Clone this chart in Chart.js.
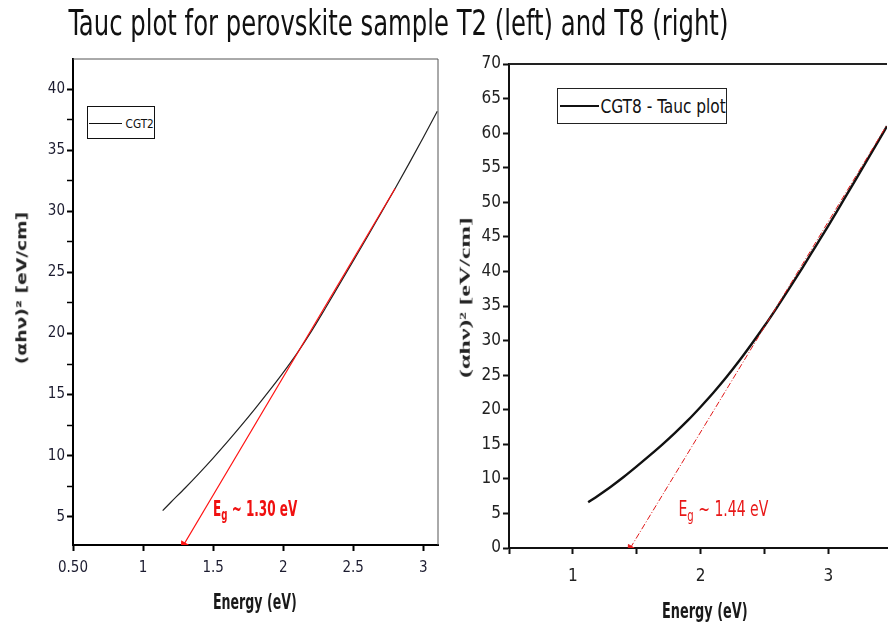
<!DOCTYPE html>
<html>
<head>
<meta charset="utf-8">
<title>Tauc plot</title>
<script src="https://cdn.jsdelivr.net/npm/chart.js@4.4.1/dist/chart.umd.min.js"></script>
<style>
  html, body { margin: 0; padding: 0; background: #fff; }
  body {
    width: 892px; height: 629px; position: relative; overflow: hidden;
    font-family: "Liberation Sans Narrow", "Arial Narrow", "DejaVu Sans Condensed", "Liberation Sans", sans-serif;
  }
  canvas { position: absolute; top: 0; }
  #leftChart  { left: 0; }
  #rightChart { left: 440px; }
  .txt { position: absolute; white-space: nowrap; line-height: 1; transform-origin: 50% 50%; }
  .txt sub { position: relative; top: 0.32em; font-size: 0.72em; vertical-align: baseline; line-height: 0; }
  .legend { position: absolute; background: #fff; box-sizing: border-box; }
  .legend .sw { position: absolute; }
</style>
</head>
<body>
<canvas id="leftChart" width="445" height="629"></canvas>
<canvas id="rightChart" width="452" height="629"></canvas>

<div class="txt" id="mainTitle" style="font-size:36px;color:#111;">Tauc plot for perovskite sample T2 (left) and T8 (right)</div>

<div class="txt" id="leftYTitle"  style="font-size:14px;font-weight:bold;color:#222;">(&alpha;h&nu;)&sup2; [eV/cm]</div>
<div class="txt" id="rightYTitle" style="font-size:15px;font-weight:bold;color:#222;font-family:'Liberation Serif','DejaVu Serif',serif;">(&alpha;h&nu;)&sup2; [eV/cm]</div>
<div class="txt" id="leftXTitle"  style="font-size:21px;font-weight:bold;color:#1a1a1a;">Energy (eV)</div>
<div class="txt" id="rightXTitle" style="font-size:22px;font-weight:bold;color:#1a1a1a;">Energy (eV)</div>

<div class="txt" id="leftEg"  style="font-size:21px;font-weight:bold;color:#f01010;">E<sub>g</sub> ~ 1.30 eV</div>
<div class="txt" id="rightEg" style="font-size:22px;color:#e81818;">E<sub>g</sub> ~ 1.44 eV</div>

<div class="legend" style="left:87px;top:106px;width:68px;height:33px;border:1px solid #111;">
  <div class="sw" style="left:1px;top:16px;width:33px;height:1px;background:#111;"></div>
</div>
<div class="legend" style="left:557px;top:88px;width:170px;height:36px;border:1.5px solid #222;">
  <div class="sw" style="left:2px;top:16px;width:39px;height:1.5px;background:#111;"></div>
</div>
<div class="txt" id="leftLegendText"  style="font-size:13px;color:#111;">CGT2</div>
<div class="txt" id="rightLegendText" style="font-size:20px;color:#111;">CGT8 - Tauc plot</div>

<script>
// ===== DATA =====

// T2 sample (left)
const cgt2Energy = [1.14, 1.2, 1.3, 1.4, 1.5, 1.6, 1.7, 1.8, 1.9, 2.0, 2.1, 2.2, 2.3, 2.4, 2.5, 2.6, 2.7, 2.8, 2.9, 3.0, 3.1];
const cgt2Tauc   = [5.5, 6.2, 7.35, 8.55, 9.8, 11.1, 12.45, 13.85, 15.3, 16.8, 18.4, 20.15, 22.05, 24.0, 25.95, 27.9, 29.9, 31.9, 33.95, 36.05, 38.2];
const cgt2FitEnergy = [1.29, 2.80];
const cgt2FitTauc   = [2.7, 31.9];

// T8 sample (right)
const cgt8Energy = [1.12, 1.2, 1.3, 1.4, 1.5, 1.6, 1.7, 1.8, 1.9, 2.0, 2.1, 2.2, 2.3, 2.4, 2.5, 2.6, 2.7, 2.8, 2.9, 3.0, 3.1, 3.2, 3.3, 3.4, 3.46];
const cgt8Tauc   = [6.6, 7.6, 8.9, 10.3, 11.8, 13.35, 14.95, 16.65, 18.45, 20.4, 22.45, 24.65, 27.0, 29.5, 32.1, 34.85, 37.7, 40.6, 43.6, 46.6, 49.7, 52.8, 55.95, 59.1, 61.0];
const cgt8FitEnergy = [1.45, 3.46];
const cgt8FitTauc   = [0, 61.2];

// axis ticks
const leftXTicks  = [0.5, 1, 1.5, 2, 2.5, 3];
const leftXLabels = ['0.50', '1', '1.5', '2', '2.5', '3'];
const leftYTicks  = [5, 7.5, 10, 12.5, 15, 17.5, 20, 22.5, 25, 27.5, 30, 32.5, 35, 37.5, 40];
const leftYLabels = ['5', '', '10', '', '15', '', '20', '', '25', '', '30', '', '35', '', '40'];
const rightXTicks  = [0.5, 1, 1.5, 2, 2.5, 3];
const rightXLabels = ['', '1', '', '2', '', '3'];
const rightYTicks  = [0, 5, 10, 15, 20, 25, 30, 35, 40, 45, 50, 55, 60, 65, 70];

const FONT = '"Liberation Sans Narrow", "Arial Narrow", "DejaVu Sans Condensed", "Liberation Sans", sans-serif';

const toPts = (xs, ys) => xs.map((x, i) => ({ x, y: ys[i] }));

// arrow head rotation follows the fitted line on screen
function arrowRotation(ctx) {
  const c = ctx.chart;
  const d = ctx.dataset.data;
  if (!c.scales.x || !c.scales.y) return 0;
  const x0 = c.scales.x.getPixelForValue(d[0].x), y0 = c.scales.y.getPixelForValue(d[0].y);
  const x1 = c.scales.x.getPixelForValue(d[1].x), y1 = c.scales.y.getPixelForValue(d[1].y);
  return Math.atan2(x0 - x1, -(y0 - y1)) * 180 / Math.PI;
}

// top / right frame of the plot box
const framePlugin = {
  id: 'frame',
  afterDraw(chart, args, opts) {
    const { ctx, chartArea: a } = chart;
    ctx.save();
    ctx.strokeStyle = opts.color;
    ctx.lineWidth = opts.width;
    ctx.beginPath();
    ctx.moveTo(a.left, a.top);
    ctx.lineTo(a.right, a.top);
    if (opts.right) ctx.lineTo(a.right, a.bottom);
    ctx.stroke();
    ctx.restore();
  },
};

function fixedTicks(values) {
  return scale => { scale.ticks = values.map(v => ({ value: v })); };
}

// ======== LEFT: CGT2 ========
new Chart(document.getElementById('leftChart'), {
  type: 'line',
  data: {
    datasets: [
      {
        label: 'CGT2',
        data: toPts(cgt2Energy, cgt2Tauc),
        borderColor: '#222',
        borderWidth: 1.2,
        pointRadius: 0,
        cubicInterpolationMode: 'monotone',
        order: 1,
      },
      {
        label: 'fit',
        data: toPts(cgt2FitEnergy, cgt2FitTauc),
        borderColor: '#ff1010',
        borderWidth: 1.2,
        pointStyle: 'triangle',
        pointRadius: [4, 0],
        pointRotation: arrowRotation,
        pointBackgroundColor: '#ff1010',
        pointBorderColor: '#ff1010',
        order: 0,
      },
    ],
  },
  options: {
    responsive: false,
    animation: false,
    layout: { padding: { top: 59, right: 7, left: 0, bottom: 0 } },
    plugins: {
      legend: { display: false },
      tooltip: { enabled: false },
      frame: { color: '#555', width: 1, right: true },
    },
    scales: {
      x: {
        type: 'linear', min: 0.5, max: 3.105,
        afterBuildTicks: fixedTicks(leftXTicks),
        afterFit: s => { s.height = 84; },
        border: { display: true, color: '#000', width: 2 },
        grid: { drawOnChartArea: false, drawTicks: true, tickLength: 6, tickWidth: 2, tickColor: '#000' },
        ticks: { padding: 8, color: '#1c1c30', font: { family: FONT, size: 15 }, callback: (v, i) => leftXLabels[i], maxRotation: 0 },
      },
      y: {
        type: 'linear', min: 2.68, max: 42.48,
        afterBuildTicks: fixedTicks(leftYTicks),
        afterFit: s => { s.width = 73; },
        border: { display: true, color: '#000', width: 2 },
        grid: { drawOnChartArea: false, drawTicks: true, tickLength: 6, tickColor: '#000', tickWidth: c => (leftYLabels[c.index] ? 2 : 1.5) },
        ticks: { padding: 2, color: '#1c1c30', font: { family: FONT, size: 15 }, callback: (v, i) => leftYLabels[i] },
      },
    },
  },
  plugins: [framePlugin],
});

// ======== RIGHT: CGT8 ========
new Chart(document.getElementById('rightChart'), {
  type: 'line',
  data: {
    datasets: [
      {
        label: 'CGT8 - Tauc plot',
        data: toPts(cgt8Energy, cgt8Tauc),
        borderColor: '#111',
        borderWidth: 2.4,
        pointRadius: 0,
        cubicInterpolationMode: 'monotone',
        order: 1,
      },
      {
        label: 'fit',
        data: toPts(cgt8FitEnergy, cgt8FitTauc),
        borderColor: '#e01818',
        borderWidth: 1,
        borderDash: [6, 2, 1, 2],
        pointStyle: 'triangle',
        pointRadius: [4, 0],
        pointRotation: arrowRotation,
        pointBackgroundColor: '#e01818',
        pointBorderColor: '#e01818',
        order: 0,
      },
    ],
  },
  options: {
    responsive: false,
    animation: false,
    layout: { padding: { top: 64, right: 0, left: 0, bottom: 0 } },
    plugins: {
      legend: { display: false },
      tooltip: { enabled: false },
      frame: { color: '#222', width: 2, right: false },
    },
    scales: {
      x: {
        type: 'linear', min: 0.5, max: 3.46,
        afterBuildTicks: fixedTicks(rightXTicks),
        afterFit: s => { s.height = 81; },
        border: { display: true, color: '#111', width: 2 },
        grid: { drawOnChartArea: false, drawTicks: true, tickLength: 6, tickWidth: 2, tickColor: '#111' },
        ticks: { padding: 12, color: '#222', font: { family: FONT, size: 17 }, callback: (v, i) => rightXLabels[i], maxRotation: 0 },
      },
      y: {
        type: 'linear', min: 0, max: 70,
        afterBuildTicks: fixedTicks(rightYTicks),
        afterFit: s => { s.width = 69; },
        border: { display: true, color: '#111', width: 2 },
        grid: { drawOnChartArea: false, drawTicks: true, tickLength: 6, tickWidth: 2, tickColor: '#111' },
        ticks: { padding: 2, color: '#222', font: { family: FONT, size: 17 } },
      },
    },
  },
  plugins: [framePlugin],
});

// ======== TEXT PLACEMENT ========
function place(id, cx, cy, len, rot) {
  const el = document.getElementById(id);
  const w = el.offsetWidth, h = el.offsetHeight;
  el.style.left = (cx - w / 2) + 'px';
  el.style.top  = (cy - h / 2) + 'px';
  el.style.transform = `rotate(${rot || 0}deg) scaleX(${len / w})`;
}

place('mainTitle',       398, 23, 660);
place('leftYTitle',      21.5, 288, 153, -90);
place('rightYTitle',     464.5, 297, 160, -90);
place('leftXTitle',      255, 602.5, 84);
place('rightXTitle',     705, 611, 86);
place('leftEg',          255, 509, 84);
place('rightEg',         723, 508.5, 90);
place('leftLegendText',  139, 123, 28);
place('rightLegendText', 662.5, 106, 125);
</script>
</body>
</html>
